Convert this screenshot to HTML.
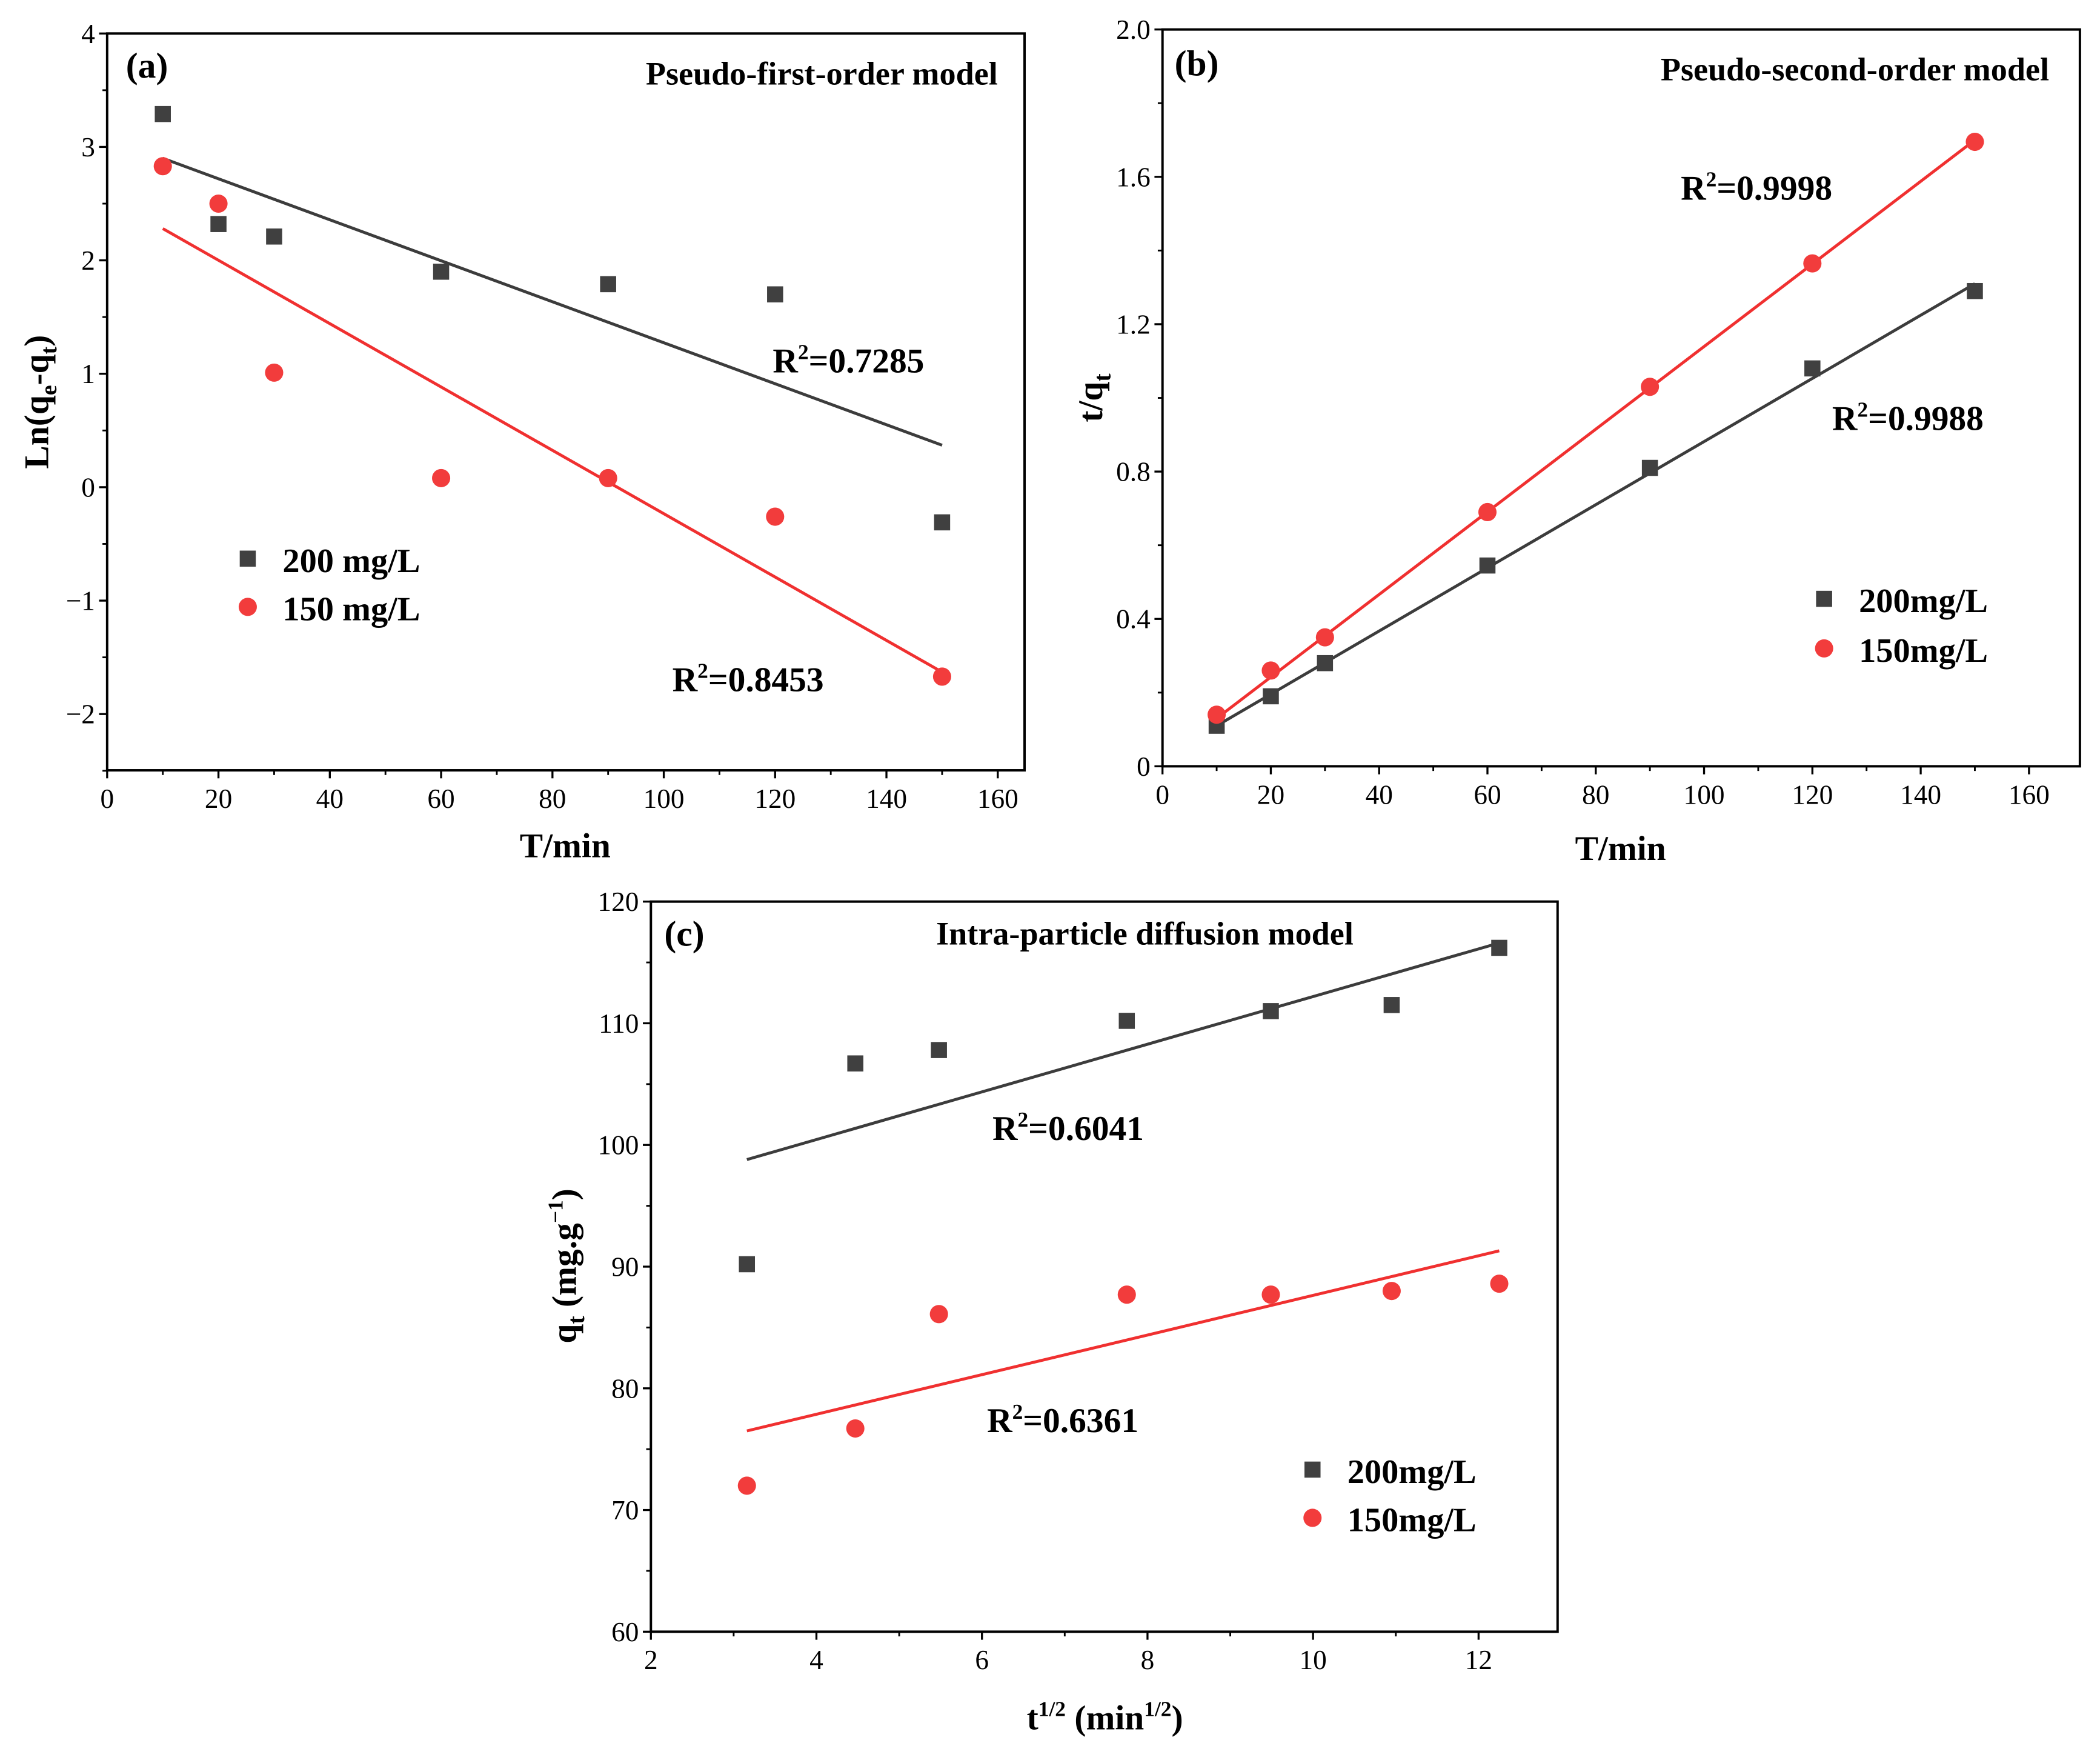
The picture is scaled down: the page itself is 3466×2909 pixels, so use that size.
<!DOCTYPE html>
<html><head><meta charset="utf-8"><style>
html,body{margin:0;padding:0;background:#fff;}
svg{display:block;font-family:"Liberation Serif",serif;}
</style></head><body>
<svg id="fig" width="3466" height="2909" viewBox="0 0 1568 1316" xmlns="http://www.w3.org/2000/svg"></svg>
<script>
// Panel (a) data
const aX = [10,20,30,60,90,120,150];
const a200 = [3.29,2.32,2.21,1.90,1.79,1.70,-0.31];
const a150 = [2.83,2.50,1.01,0.08,0.08,-0.26,-1.67];
const aFit200 = [2.90,0.37];
const aFit150 = [2.28,-1.63];
const aXTicks = [0,20,40,60,80,100,120,140,160];
const aYTicks = [4,3,2,1,0,-1,-2];
// Panel (b) data
const bX = [10,20,30,60,90,120,150];
const b200 = [0.11,0.19,0.28,0.545,0.81,1.08,1.29];
const b150 = [0.14,0.26,0.35,0.69,1.03,1.365,1.695];
const bFit200 = [0.11,1.31];
const bFit150 = [0.13,1.70];
const bXTicks = [0,20,40,60,80,100,120,140,160];
const bYTicks = [0,0.4,0.8,1.2,1.6,2.0];
const bYLabels = ["0","0.4","0.8","1.2","1.6","2.0"];
// Panel (c) data
const cX = [3.16,4.47,5.48,7.75,9.49,10.95,12.25];
const c200 = [90.2,106.7,107.8,110.2,111.0,111.5,116.2];
const c150 = [72.0,76.7,86.1,87.7,87.7,88.0,88.6];
const cFit200 = [98.8,116.6];
const cFit150 = [76.5,91.3];
const cXTicks = [2,4,6,8,10,12];
const cYTicks = [60,70,80,90,100,110,120];

const NS="http://www.w3.org/2000/svg";
const svg=document.getElementById('fig');
function mk(tag,attrs,parent){const e=document.createElementNS(NS,tag);for(const k in attrs)e.setAttribute(k,attrs[k]);(parent||svg).appendChild(e);return e;}

function panel(o){
  const g=mk('g',{});
  
  
  const sx=v=>o.x0+(v-o.xmin)/(o.xmax-o.xmin)*(o.x1-o.x0);
  const sy=v=>o.y0-(v-o.ymin)/(o.ymax-o.ymin)*(o.y0-o.y1);
  const box=mk('rect',{x:o.x0,y:o.y1,width:o.right-o.x0,height:o.bottom-o.y1,fill:'none',stroke:'#000','stroke-width':1.8},g);
  
  
  o.xt.forEach((v,i)=>{
    const x=sx(v);
    mk('line',{x1:x,y1:o.bottom,x2:x,y2:o.bottom+6,stroke:'#000','stroke-width':1.5},g);
    if(i<o.xt.length-1){const xm=sx(v+o.xminor);mk('line',{x1:xm,y1:o.bottom,x2:xm,y2:o.bottom+3.5,stroke:'#000','stroke-width':1.3},g);}
    const t=mk('text',{x:x,y:o.bottom+28,'text-anchor':'middle','font-size':20.5},g);
    t.textContent=o.xl?o.xl[i]:String(v).replace('-','\u2212');
    
    
  });
  o.yt.forEach((v,i)=>{
    const y=sy(v);
    mk('line',{x1:o.x0,y1:y,x2:o.x0-6,y2:y,stroke:'#000','stroke-width':1.5},g);
    const ym=sy(v-o.yminor); if(ym<=o.bottom+0.5) mk('line',{x1:o.x0,y1:ym,x2:o.x0-3.5,y2:ym,stroke:'#000','stroke-width':1.3},g);
    const t=mk('text',{x:o.x0-9,y:y+7,'text-anchor':'end','font-size':20.5},g);
    t.textContent=o.yl?o.yl[i]:String(v).replace('-','\u2212');
    
    
  });
  const l1=mk('line',{x1:sx(o.xs[0]),y1:sy(o.f200[0]),x2:sx(o.xs[o.xs.length-1]),y2:sy(o.f200[1]),stroke:'#3c3c3c','stroke-width':2.2},g);
  
  
  const l2=mk('line',{x1:sx(o.xs[0]),y1:sy(o.f150[0]),x2:sx(o.xs[o.xs.length-1]),y2:sy(o.f150[1]),stroke:'#f03030','stroke-width':2.2},g);
  
  
  o.xs.forEach((v,i)=>{
    const r=mk('rect',{x:sx(v)-6,y:sy(o.s200[i])-6,width:12,height:12,fill:'#404040'},g);
    
    
  });
  o.xs.forEach((v,i)=>{
    const c=mk('circle',{cx:sx(v),cy:sy(o.s150[i]),r:6.8,fill:'#f23c3c'},g);
    
    
  });
  return g;
}
function txt(x,y,html,size,anchor,name,extra){
  const t=mk('text',Object.assign({x:x,y:y,'font-size':size,'font-weight':'bold','text-anchor':anchor||'start'},extra||{}));
  t.innerHTML=html;
  
  
  return t;
}
function legend(x,y1,y2,l1,l2){
  const r=mk('rect',{x:x-6,y:y1-6,width:12,height:12,fill:'#404040'});
  
  
  const c=mk('circle',{cx:x,cy:y2,r:6.8,fill:'#f23c3c'});
  
  
  txt(x+26,y1+10,l1,25.5,'start','legend-entry-200');
  txt(x+26,y2+10,l2,25.5,'start','legend-entry-150');
}

panel({name:'panel-a',x0:80,x1:745,xmin:0,xmax:160,right:765,y0:533,y1:25,ymin:-2,ymax:4,bottom:575,
  xt:aXTicks,yt:aYTicks,xminor:10,yminor:0.5,xs:aX,s200:a200,s150:a150,f200:aFit200,f150:aFit150});
panel({name:'panel-b',x0:868,x1:1515,xmin:0,xmax:160,right:1553,y0:572,y1:22,ymin:0,ymax:2,bottom:572,
  xt:bXTicks,yt:bYTicks,yl:bYLabels,xminor:10,yminor:0.2,xs:bX,s200:b200,s150:b150,f200:bFit200,f150:bFit150});
panel({name:'panel-c',x0:486,x1:1104,xmin:2,xmax:12,right:1163,y0:1218,y1:673,ymin:60,ymax:120,bottom:1218,
  xt:cXTicks,yt:cYTicks,xminor:1,yminor:5,xs:cX,s200:c200,s150:c150,f200:cFit200,f150:cFit150});

txt(94,58,'(a)',27,'start','panel-a-label');
txt(745,63,'Pseudo-first-order model',24.5,'end','panel-a-title');
txt(577,278,'R<tspan dy="-10" font-size="16">2</tspan><tspan dy="10">=0.7285</tspan>',26,'start','r2-a-200');
txt(502,516,'R<tspan dy="-10" font-size="16">2</tspan><tspan dy="10">=0.8453</tspan>',26,'start','r2-a-150');
legend(185,417,453,'200 mg/L','150 mg/L');
txt(422,640,'T/min',26,'middle','x-axis-title-a');
txt(0,0,'Ln(q<tspan dy="6" font-size="17">e</tspan><tspan dy="-6">-q</tspan><tspan dy="6" font-size="17">t</tspan><tspan dy="-6">)</tspan>',26,'middle','y-axis-title-a',{transform:'translate(36,300) rotate(-90)'});
txt(877,56,'(b)',27,'start','panel-b-label');
txt(1530,60,'Pseudo-second-order model',24.5,'end','panel-b-title');
txt(1255,149,'R<tspan dy="-10" font-size="16">2</tspan><tspan dy="10">=0.9998</tspan>',26,'start','r2-b-150');
txt(1368,321,'R<tspan dy="-10" font-size="16">2</tspan><tspan dy="10">=0.9988</tspan>',26,'start','r2-b-200');
legend(1362,447,484,'200mg/L','150mg/L');
txt(1210,642,'T/min',26,'middle','x-axis-title-b');
txt(0,0,'t/q<tspan dy="6" font-size="18">t</tspan>',26,'middle','y-axis-title-b',{transform:'translate(823,297) rotate(-90)'});
txt(496,706,'(c)',27,'start','panel-c-label');
txt(699,705,'Intra-particle diffusion model',24.5,'start','panel-c-title');
txt(741,851,'R<tspan dy="-10" font-size="16">2</tspan><tspan dy="10">=0.6041</tspan>',26,'start','r2-c-200');
txt(737,1069,'R<tspan dy="-10" font-size="16">2</tspan><tspan dy="10">=0.6361</tspan>',26,'start','r2-c-150');
legend(980,1097,1133,'200mg/L','150mg/L');
txt(825,1291,'t<tspan dy="-10" font-size="16">1/2</tspan><tspan dy="10"> (min</tspan><tspan dy="-10" font-size="16">1/2</tspan><tspan dy="10">)</tspan>',26,'middle','x-axis-title-c');
txt(0,0,'q<tspan dy="6" font-size="18">t</tspan><tspan dy="-6"> (mg.g</tspan><tspan dy="-10" font-size="16">\u22121</tspan><tspan dy="10">)</tspan>',26,'middle','y-axis-title-c',{transform:'translate(430,945) rotate(-90)'});
</script>
</body></html>
